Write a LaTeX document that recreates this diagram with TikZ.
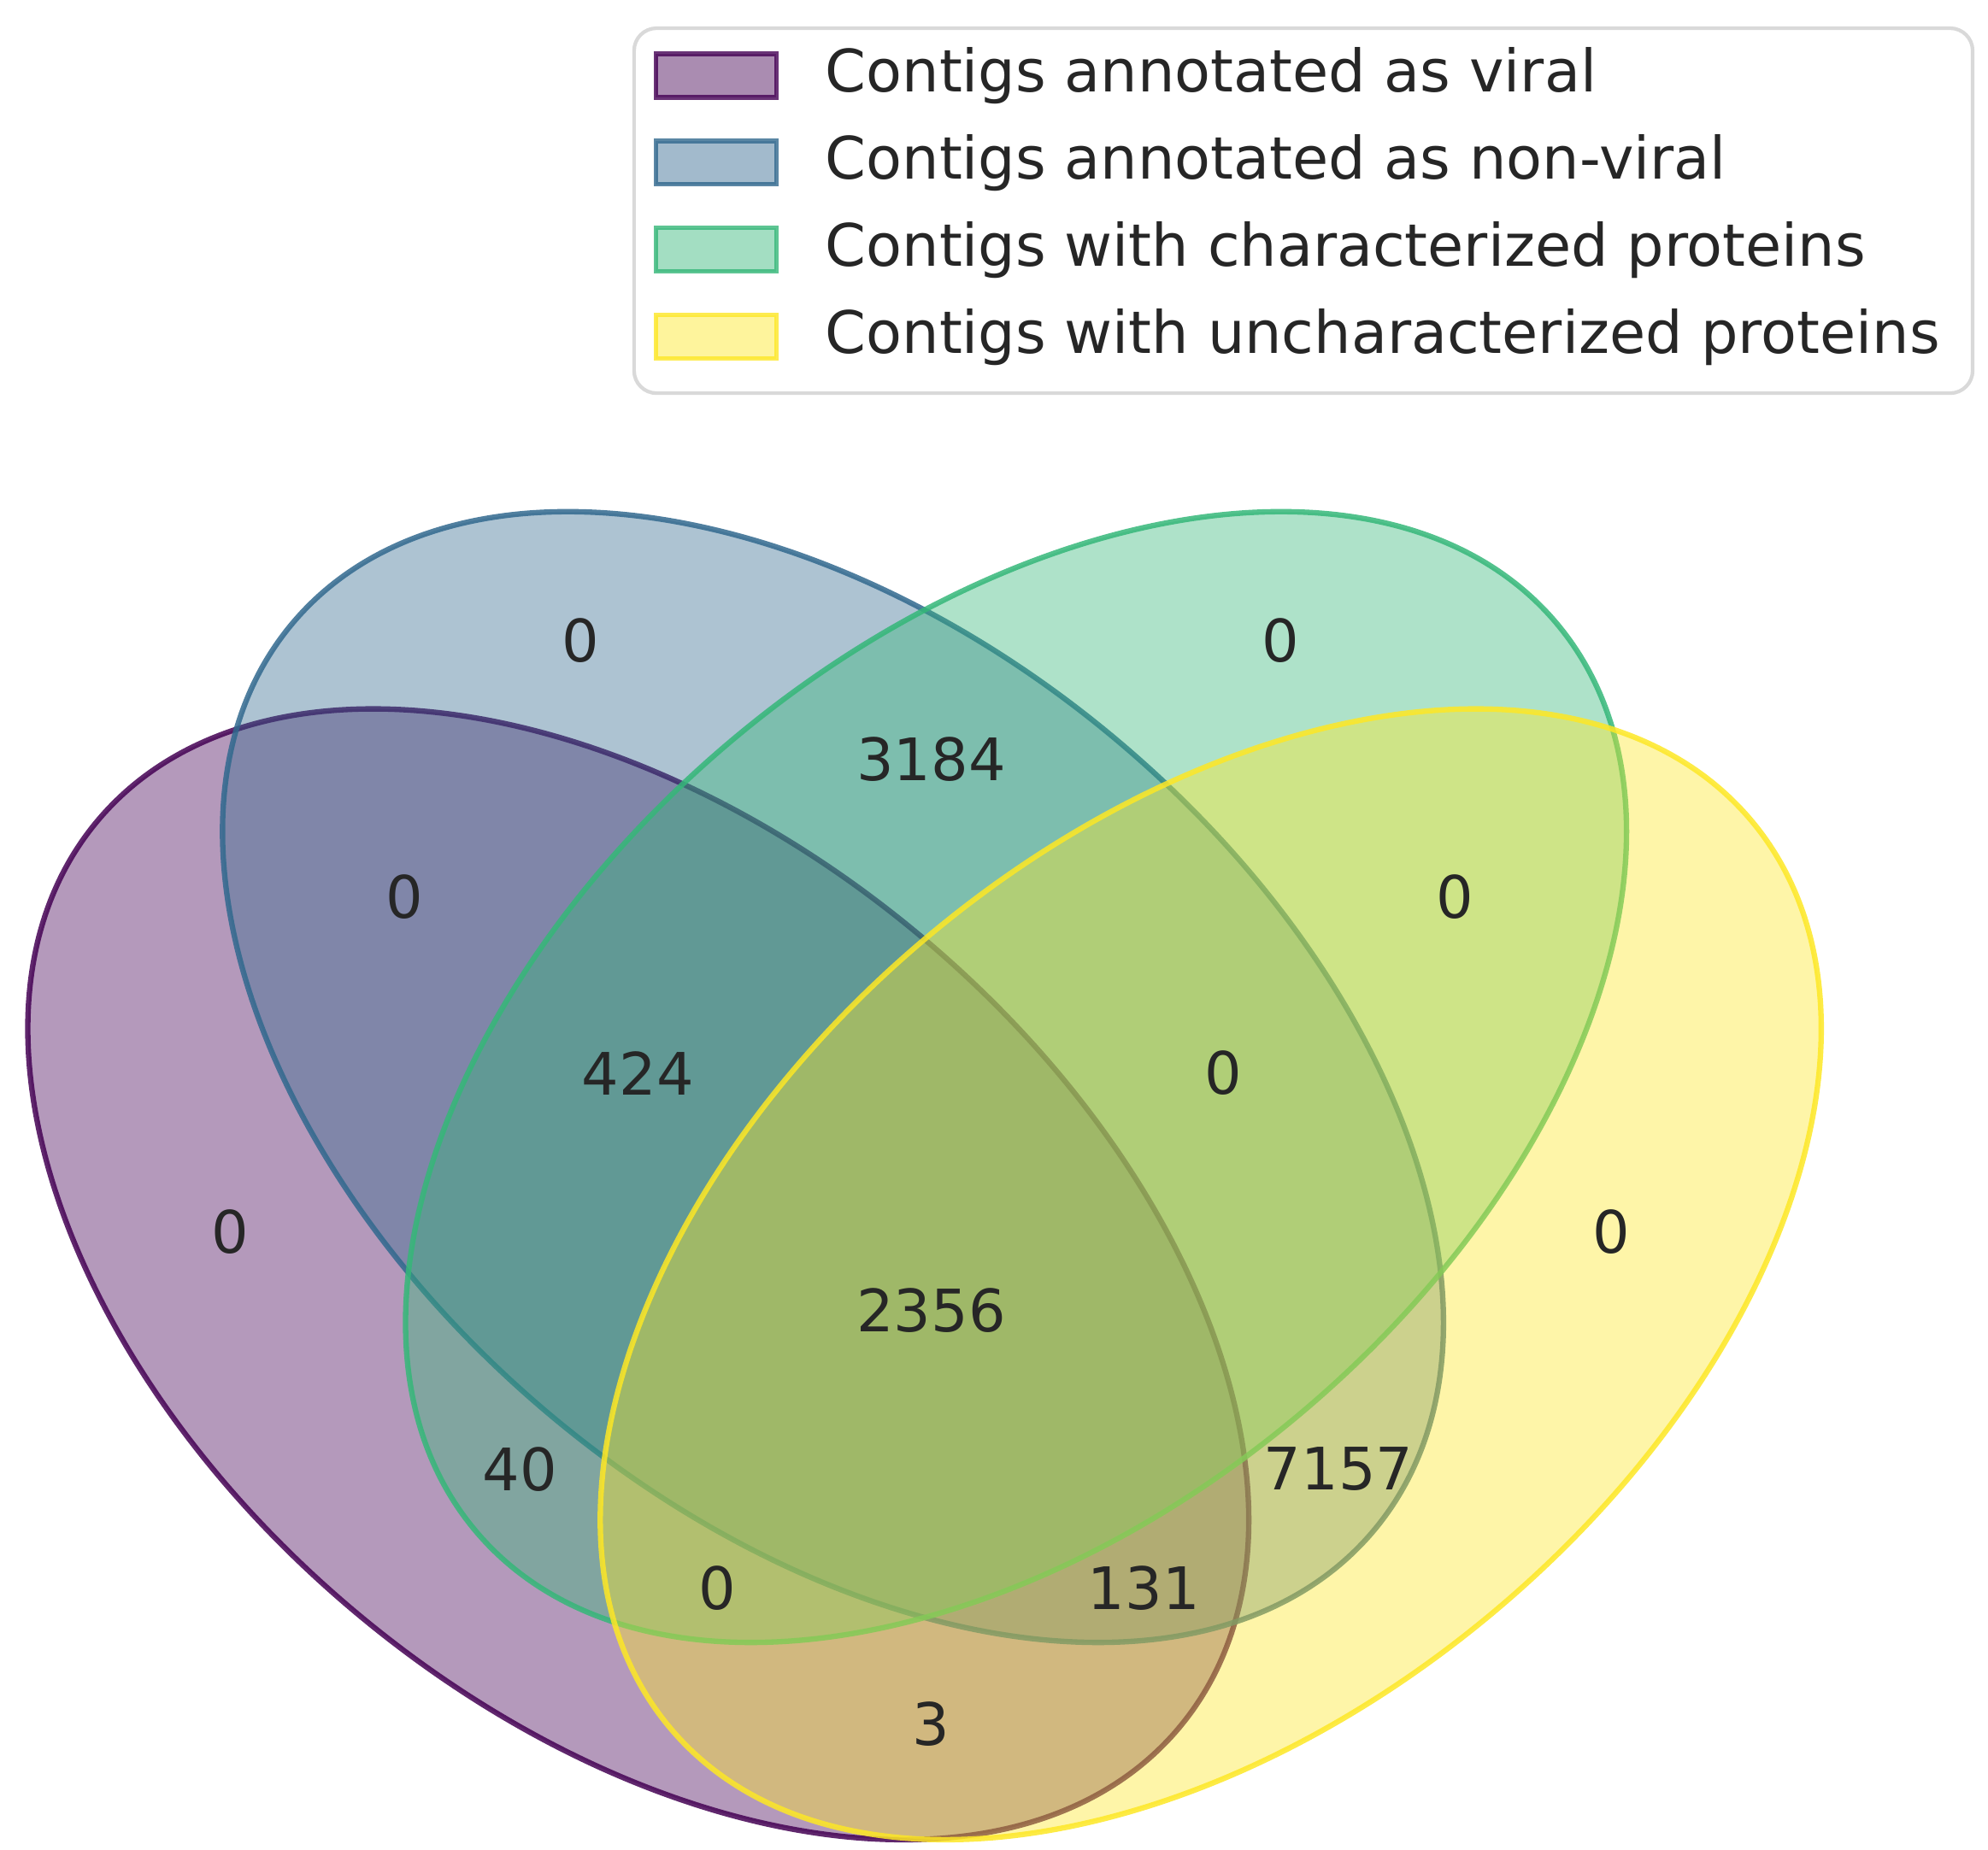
\documentclass[tikz,border=0pt]{standalone}
\usepackage{fontspec}
\setmainfont{DejaVu Sans}
\begin{document}
\definecolor{vP}{HTML}{440154}
\definecolor{vB}{HTML}{31688E}
\definecolor{vG}{HTML}{35B779}
\definecolor{vY}{HTML}{FDE725}
\begin{tikzpicture}[x=0.01cm,y=-0.01cm,
  set/.style={fill=#1,fill opacity=0.4,draw=#1,draw opacity=0.85,line width=1.2pt},
  num/.style={font=\fontsize{13}{15}\selectfont,text=black!85},
  leg/.style={font=\fontsize{13}{15}\selectfont,anchor=west,text=black!85},
  patch/.style={fill=#1,fill opacity=0.45,draw=#1,draw opacity=0.8,line width=1pt}]
\useasboundingbox (0,0) rectangle (1552,1444);
\draw[set=vP,rotate around={140:(498.3,995)}] (498.3,995) ellipse [x radius=551,y radius=344];
\draw[set=vB,rotate around={140:(650.3,841)}] (650.3,841) ellipse [x radius=551,y radius=344];
\draw[set=vG,rotate around={40:(793.2,841)}] (793.2,841) ellipse [x radius=551,y radius=344];
\draw[set=vY,rotate around={40:(945.2,995)}] (945.2,995) ellipse [x radius=551,y radius=344];
\node[num] (n1) at (453,500) {0};
\node[num] (n2) at (1000,500) {0};
\node[num] (n3) at (727,593) {3184};
\node[num] (n4) at (316,700) {0};
\node[num] (n5) at (1136,700) {0};
\node[num] (n6) at (498,838) {424};
\node[num] (n7) at (955,838) {0};
\node[num] (n8) at (180,962) {0};
\node[num] (n9) at (727,1023) {2356};
\node[num] (n10) at (1258,962) {0};
\node[num] (n11) at (406,1147) {40};
\node[num] (n12) at (1045,1147) {7157};
\node[num] (n13) at (560,1240) {0};
\node[num] (n14) at (893,1240) {131};
\node[num] (n15) at (727,1346) {3};
% legend
\draw[draw=black!15,fill=white,rounded corners=5pt,line width=0.8pt] (495,22) rectangle (1540,307);
\draw[patch=vP] (512,42) rectangle (606,76);
\draw[patch=vB] (512,110) rectangle (606,144);
\draw[patch=vG] (512,178) rectangle (606,212);
\draw[patch=vY] (512,246) rectangle (606,280);
\node[leg] (l1) at (632,59) {Contigs annotated as viral};
\node[leg] (l2) at (632,127) {Contigs annotated as non-viral};
\node[leg] (l3) at (632,195) {Contigs with characterized proteins};
\node[leg] (l4) at (632,263) {Contigs with uncharacterized proteins};
\end{tikzpicture}
\end{document}
